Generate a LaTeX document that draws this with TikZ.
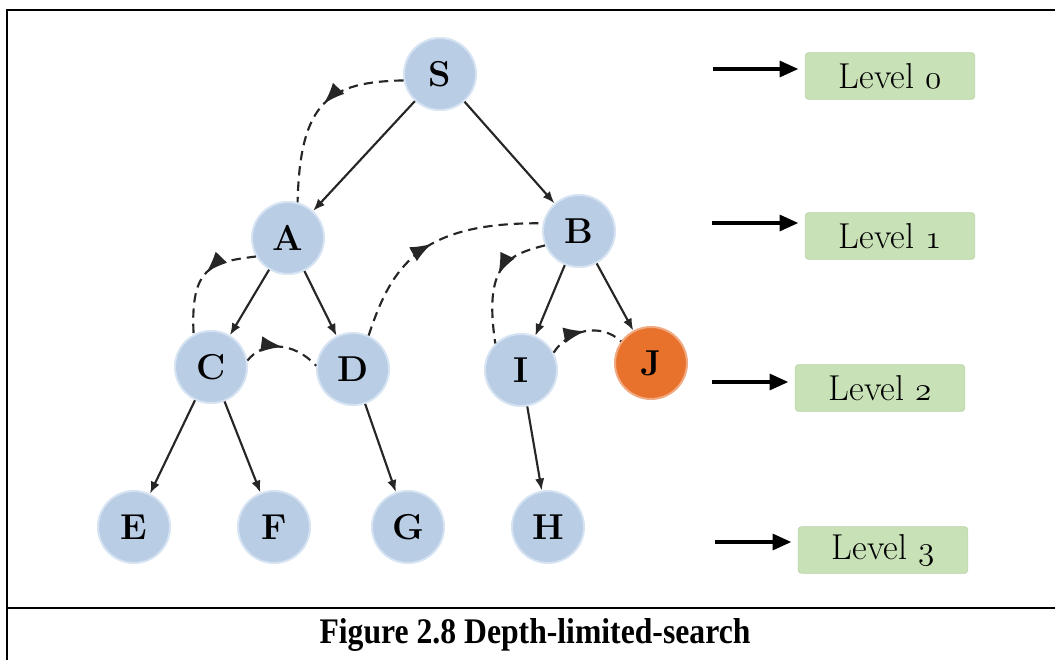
\documentclass[tikz,border=0pt]{standalone}
\usepackage{fontspec}
\usepackage{tikz}
\usetikzlibrary{arrows.meta}
\usetikzlibrary{decorations.markings}
\usetikzlibrary{positioning}
\newfontfamily\capfont{Liberation Serif}
\newcommand{\lvnum}[1]{{\usefont{OML}{cmm}{m}{it}#1}}

\definecolor{nodeblue}{RGB}{185,205,229}
\definecolor{nodering}{RGB}{214,227,242}
\definecolor{jorange}{RGB}{232,113,44}
\definecolor{lvgreen}{RGB}{200,225,183}
\definecolor{lvedge}{RGB}{186,212,168}

\tikzset{
  statenode/.style={circle,fill=nodeblue,draw=nodering,line width=1.5pt,minimum size=54pt,inner sep=0pt,
    font=\fontsize{27}{29}\selectfont\bfseries},
  goalnode/.style={statenode,fill=jorange,draw={rgb,255:red,240;green,170;blue,130}},
  levelbox/.style={rectangle,rounded corners=2.5pt,fill=lvgreen,draw=lvedge,line width=0.6pt,
    minimum width=127pt,minimum height=35pt,font=\fontsize{27}{29}\selectfont},
  treeedge/.style={line width=1.6pt,draw=black!85,-{Latex[length=9pt,width=7pt]}},
  levelarrow/.style={line width=2.4pt,-{Triangle[length=14pt,width=12pt]},shorten >=5pt},
  midtip/.style={postaction={decorate},decoration={markings,
    mark=at position #1 with {\arrow{Latex[length=16pt,width=12pt]}}}},
  dfsorder/.style={line width=1.6pt,draw=black!85,dash pattern={on 7pt off 4.5pt}}
}

\begin{document}
\begin{tikzpicture}[x=0.75pt,y=0.75pt,yscale=-1,xscale=1]
\useasboundingbox (0,0) rectangle (1055,660);

%Frame lines
\draw [line width=1.4pt] (7,660) -- (7,10) -- (1055,10) ;
\draw [line width=1.4pt] (7,608) -- (1055,608) ;

%Tree nodes
\node [statenode] (S) at (440,74) {S};
\node [statenode] (A) at (288,238) {A};
\node [statenode] (B) at (579,231) {B};
\node [statenode] (C) at (211,367) {C};
\node [statenode] (D) at (353,369) {D};
\node [statenode] (I) at (521,370) {I};
\node [goalnode] (J) at (651,363) {J};
\node [statenode] (E) at (134,527) {E};
\node [statenode] (F) at (274,527) {F};
\node [statenode] (G) at (408,527) {G};
\node [statenode] (H) at (548,527) {H};

%Tree edges
\draw [treeedge] (S) -- (A) ;
\draw [treeedge] (S) -- (B) ;
\draw [treeedge] (A) -- (C) ;
\draw [treeedge] (A) -- (D) ;
\draw [treeedge] (B) -- (I) ;
\draw [treeedge] (B) -- (J) ;
\draw [treeedge] (C) -- (E) ;
\draw [treeedge] (C) -- (F) ;
\draw [treeedge] (D) -- (G) ;
\draw [treeedge] (I) -- (H) ;

%Search order (dashed)
\draw [dfsorder,midtip=0.45] (S.190) .. controls (330,82) and (300,100) .. (A.75) ;
\draw [dfsorder,midtip=0.45] (A.210) .. controls (212,262) and (190,266) .. (C.118) ;
\draw [dfsorder,midtip=0.5] (C.10) .. controls (262,342) and (292,340) .. (D.175) ;
\draw [dfsorder,midtip=0.5] (D.65) .. controls (392,265) and (420,222) .. (B.168) ;
\draw [dfsorder,midtip=0.45] (B.203) .. controls (505,255) and (484,268) .. (I.134) ;
\draw [dfsorder,midtip=0.5] (I.28) .. controls (568,330) and (600,322) .. (J.144) ;

%Levels
\node [levelbox] (lv0) at (890,76) {Level \lvnum{0}};
\node [levelbox] (lv1) at (890,236) {Level \lvnum{1}};
\node [levelbox] (lv2) at (880,388) {Level \lvnum{2}};
\node [levelbox] (lv3) at (883,550) {Level \lvnum{3}};
\coordinate (p0) at (713,69);
\coordinate (p1) at (712,223);
\coordinate (p2) at (712,382);
\coordinate (p3) at (715,542);
\draw [levelarrow] (p0) -- (p0 -| lv0.west) ;
\draw [levelarrow] (p1) -- (p1 -| lv1.west) ;
\draw [levelarrow] (p2) -- (p2 -| lv2.west) ;
\draw [levelarrow] (p3) -- (p3 -| lv3.west) ;

% Text Node
\node (cap) at (535,635) {\scalebox{0.88}[1]{\capfont\bfseries\fontsize{27}{29}\selectfont Figure 2.8 Depth-limited-search}};

\end{tikzpicture}
\end{document}
